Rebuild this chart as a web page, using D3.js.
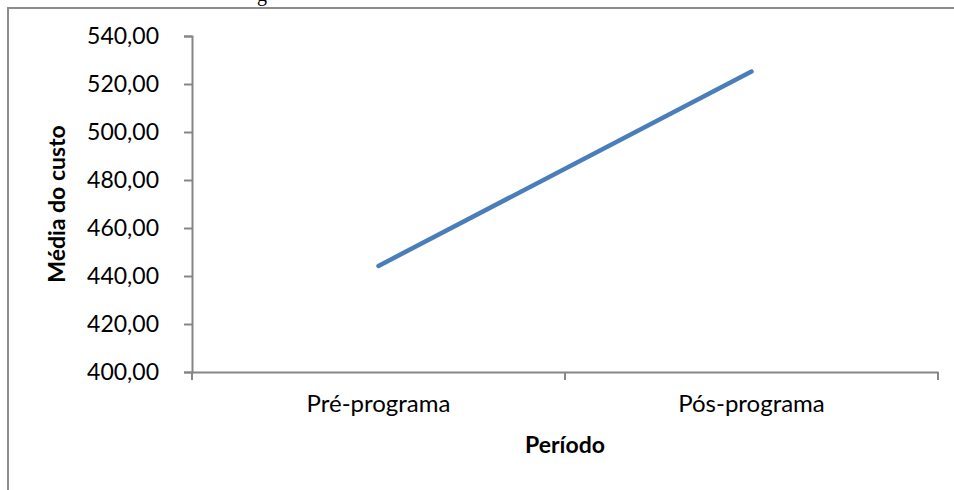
<!DOCTYPE html>
<html>
<head>
<meta charset="utf-8">
<script src="https://cdn.jsdelivr.net/npm/d3@7"></script>
<style>
  html, body { margin: 0; padding: 0; background: #fff; }
  svg { display: block; }
</style>
</head>
<body>
<svg id="chart" width="954" height="490"></svg>
<script>
const categories = ["Pré-programa", "Pós-programa"];
const values = [444.2, 525.2];
const yTicks = [400, 420, 440, 460, 480, 500, 520, 540];
const yTitle = "Média do custo";
const xTitle = "Período";

const W = 954, H = 490;
const m = { left: 192, right: 16, top: 36, bottom: 118 };
const svg = d3.select("#chart");
const font = "Lato, 'Open Sans', sans-serif";
const axisColor = "#868686";

// fragment of caption above the chart (cut off in the reference)
svg.append("text").attr("x", 257).attr("y", 1)
  .attr("font-family", "'Liberation Serif', serif").attr("font-size", 20)
  .attr("fill", "#000").text("g");

// chart frame
svg.append("rect").attr("x", 8).attr("y", 8).attr("width", W).attr("height", H)
  .attr("fill", "none").attr("stroke", "#8c8c8c").attr("stroke-width", 2);

const x = d3.scaleBand().domain(categories).range([m.left, W - m.right]);
const y = d3.scaleLinear().domain([400, 540]).range([H - m.bottom, m.top]);

// Y axis
const yAxis = svg.append("g").attr("transform", `translate(${m.left},0)`)
  .call(d3.axisLeft(y).tickValues(yTicks).tickSize(8).tickPadding(25)
    .tickFormat(d => d3.format(".2f")(d).replace(".", ",")));
yAxis.select(".domain").attr("stroke", axisColor).attr("stroke-width", 2);
yAxis.selectAll(".tick line").attr("stroke", axisColor).attr("stroke-width", 2);
yAxis.selectAll("text").attr("font-family", font).attr("font-size", 23).attr("fill", "#000");

// X axis
const xAxis = svg.append("g").attr("transform", `translate(0,${y(400)})`)
  .call(d3.axisBottom(x).tickSize(0).tickPadding(23));
xAxis.select(".domain").attr("stroke", axisColor).attr("stroke-width", 2);
xAxis.selectAll("text").attr("font-family", font).attr("font-size", 24).attr("fill", "#000");
// category boundary ticks
const bounds = [x.range()[0], ...categories.slice(1).map(c => x(c)), x.range()[1]];
xAxis.selectAll(".bound").data(bounds).enter().append("line")
  .attr("x1", d => d).attr("x2", d => d).attr("y1", 0).attr("y2", 8)
  .attr("stroke", axisColor).attr("stroke-width", 2);

// line
const line = d3.line().x((d, i) => x(categories[i]) + x.bandwidth() / 2).y(d => y(d));
svg.append("path").datum(values).attr("d", line)
  .attr("fill", "none").attr("stroke", "#4a7ebb").attr("stroke-width", 4.5)
  .attr("stroke-linecap", "round");

// axis titles
svg.append("text").attr("transform", `translate(65,${(y(400) + y(540)) / 2}) rotate(-90)`)
  .attr("text-anchor", "middle").attr("font-family", font).attr("font-weight", "bold")
  .attr("font-size", 23).attr("fill", "#000").text(yTitle);
svg.append("text").attr("x", (m.left + W - m.right) / 2).attr("y", 453)
  .attr("text-anchor", "middle").attr("font-family", font).attr("font-weight", "bold")
  .attr("font-size", 23).attr("fill", "#000").text(xTitle);
</script>
</body>
</html>
